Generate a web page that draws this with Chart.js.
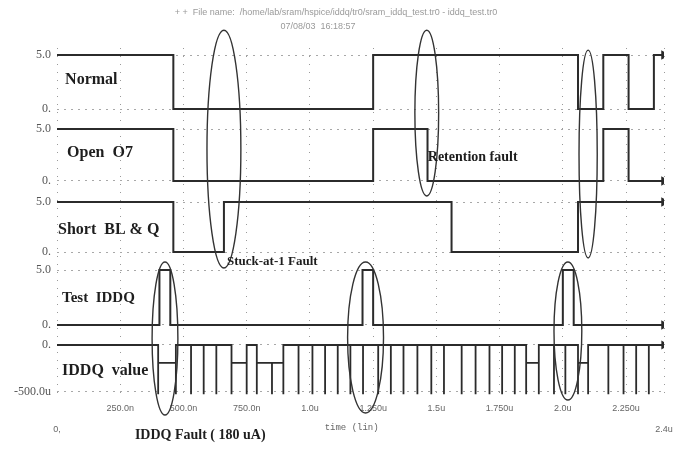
<!DOCTYPE html>
<html>
<head>
<meta charset="utf-8">
<script src="https://cdn.jsdelivr.net/npm/chart.js@4.4.1/dist/chart.umd.min.js"></script>
<style>
  html, body { margin: 0; padding: 0; background: #fff; }
  #wrap { width: 676px; height: 450px; }
</style>
</head>
<body>
<div id="wrap"><canvas id="wave" width="676" height="450"></canvas></div>
<script>
// time axis, in µs
const timeTicks = [0, 0.25, 0.5, 0.75, 1.0, 1.25, 1.5, 1.75, 2.0, 2.25, 2.4];
const timeLabels = ['0,', '250.0n', '500.0n', '750.0n', '1.0u', '1.250u', '1.5u', '1.750u', '2.0u', '2.250u', '2.4u'];

// voltage / current axes
const voltTicks = [0, 5];
const voltLabels = ['0.', '5.0'];
const currentTicks = [-500, 0];
const currentLabels = ['-500.0u', '0.'];

// step signals: time of each edge (µs) and the level after it (V)
const normalTimes = [0, 0.46, 1.25, 2.06, 2.16, 2.26, 2.36, 2.4];
const normalLevels = [5, 0, 5, 0, 5, 0, 5, 5];
const openTimes = [0, 0.46, 1.25, 1.465, 2.16, 2.26, 2.4];
const openLevels = [5, 0, 5, 0, 5, 0, 0];
const shortTimes = [0, 0.46, 0.66, 1.56, 2.06, 2.4];
const shortLevels = [5, 0, 5, 0, 5, 5];
const testTimes = [0, 0.405, 0.448, 1.208, 1.25, 2.0, 2.043, 2.4];
const testLevels = [0, 5, 0, 5, 0, 5, 0, 0];

// supply current: spike times (µs), level after each spike (µA), spike depth
const spikeTimes = [0.40, 0.47, 0.53, 0.58, 0.63, 0.69, 0.75, 0.79, 0.85, 0.895, 0.955, 1.01, 1.06, 1.11,
  1.16, 1.21, 1.27, 1.32, 1.37, 1.425, 1.48, 1.53, 1.60, 1.655, 1.71, 1.76, 1.81, 1.855, 1.905, 1.965,
  2.01, 2.06, 2.10, 2.18, 2.24, 2.29, 2.34];
const iddqLevels = [-190, 0, 0, 0, 0, -190, 0, -190, -190, 0, 0, 0, 0, 0,
  0, 0, 0, 0, 0, 0, 0, 0, 0, 0, 0, 0, 0, -190, 0, 0,
  0, -190, 0, 0, 0, 0, 0];
const spikeDepth = -525;

function stepPoints(times, levels) {
  return times.map((t, i) => ({ x: t, y: levels[i] }));
}

function iddqPoints() {
  const pts = [{ x: 0, y: 0 }];
  let level = 0;
  spikeTimes.forEach((t, i) => {
    pts.push({ x: t, y: level }, { x: t, y: spikeDepth }, { x: t, y: iddqLevels[i] });
    level = iddqLevels[i];
  });
  pts.push({ x: 2.4, y: level });
  return pts;
}

// annotations: ellipses and notes, placed in data units
const rings = [
  { t: 0.66, half: 0.067, top: ['yN', 7.3], bottom: ['yS', -1.6] },
  { t: 1.462, half: 0.047, top: ['yN', 7.3], bottom: ['yS', 5.6] },
  { t: 2.10, half: 0.036, top: ['yN', 5.45], bottom: ['yS', -0.6] },
  { t: 0.427, half: 0.051, top: ['yT', 5.73], bottom: ['yI', -745] },
  { t: 1.22, half: 0.071, top: ['yT', 5.73], bottom: ['yI', -723] },
  { t: 2.02, half: 0.055, top: ['yT', 5.73], bottom: ['yI', -585] }
];

const notes = [
  { text: 'Normal', t: 0.032, axis: 'yN', v: 2.7, font: 'bold 16px "Liberation Serif"' },
  { text: 'Open  O7', t: 0.04, axis: 'yO', v: 2.7, font: 'bold 16px "Liberation Serif"' },
  { text: 'Short  BL & Q', t: 0.004, axis: 'yS', v: 2.2, font: 'bold 16px "Liberation Serif"' },
  { text: 'Test  IDDQ', t: 0.02, axis: 'yT', v: 2.45, font: 'bold 15px "Liberation Serif"' },
  { text: 'IDDQ  value', t: 0.02, axis: 'yI', v: -277, font: 'bold 16px "Liberation Serif"' },
  { text: 'Retention fault', t: 1.466, axis: 'yO', v: 2.3, font: 'bold 14px "Liberation Serif"' },
  { text: 'Stuck-at-1 Fault', t: 0.672, axis: 'yS', v: -1.0, font: 'bold 13px "Liberation Serif"' },
  { text: 'IDDQ Fault ( 180 uA)', t: 0.308, axis: 'yI', v: -957, font: 'bold 14px "Liberation Serif"' }
];

const annotate = {
  id: 'annotate',
  afterDatasetsDraw(chart) {
    const ctx = chart.ctx;
    const x = chart.scales.x;
    ctx.save();
    ctx.strokeStyle = '#333';
    ctx.lineWidth = 1.4;
    rings.forEach(r => {
      const cx = x.getPixelForValue(r.t);
      const rx = x.getPixelForValue(r.t + r.half) - cx;
      const y1 = chart.scales[r.top[0]].getPixelForValue(r.top[1]);
      const y2 = chart.scales[r.bottom[0]].getPixelForValue(r.bottom[1]);
      ctx.beginPath();
      ctx.ellipse(cx, (y1 + y2) / 2, rx, Math.abs(y2 - y1) / 2, 0, 0, Math.PI * 2);
      ctx.stroke();
    });
    ctx.fillStyle = '#1e1e1e';
    ctx.textBaseline = 'middle';
    ctx.textAlign = 'left';
    notes.forEach(n => {
      ctx.font = n.font;
      ctx.fillText(n.text, x.getPixelForValue(n.t), chart.scales[n.axis].getPixelForValue(n.v));
    });

    // header and axis caption
    ctx.fillStyle = '#9a9a9a';
    ctx.font = '9px "Liberation Sans"';
    ctx.textAlign = 'center';
    ctx.fillText('+ +  File name:  /home/lab/sram/hspice/iddq/tr0/sram_iddq_test.tr0 - iddq_test.tr0', 336, 13);
    ctx.fillText('07/08/03  16:18:57', 318, 27);
    ctx.fillStyle = '#666';
    ctx.font = '9px "Liberation Mono"';
    ctx.fillText('time (lin)', x.getPixelForValue(1.165), chart.chartArea.bottom + 30);
    ctx.restore();
  }
};

function panelAxis(min, max, weight, values, labels) {
  return {
    type: 'linear',
    position: 'left',
    stack: 'wave',
    stackWeight: weight,
    min: min,
    max: max,
    afterBuildTicks: s => { s.ticks = values.map(v => ({ value: v })); },
    afterFit: s => { s.width = 57; },
    ticks: {
      callback: v => labels[values.indexOf(v)],
      color: '#555',
      padding: 6,
      font: { family: 'Liberation Serif', size: 12 }
    },
    grid: { color: '#a8a8a8', drawTicks: false },
    border: { display: false, dash: [2, 5] }
  };
}

function lineSet(data, axis, width) {
  return {
    data: data,
    yAxisID: axis,
    borderColor: '#2b2b2b',
    backgroundColor: '#2b2b2b',
    borderWidth: width,
    stepped: axis === 'yI' ? false : 'before',
    pointStyle: 'triangle',
    rotation: 90,
    pointRadius: c => (c.dataIndex === data.length - 1 ? 3.5 : 0),
    fill: false
  };
}

new Chart(document.getElementById('wave'), {
  type: 'line',
  data: {
    datasets: [
      lineSet(stepPoints(normalTimes, normalLevels), 'yN', 2),
      lineSet(stepPoints(openTimes, openLevels), 'yO', 2),
      lineSet(stepPoints(shortTimes, shortLevels), 'yS', 2),
      lineSet(stepPoints(testTimes, testLevels), 'yT', 2),
      lineSet(iddqPoints(), 'yI', 1.8)
    ]
  },
  options: {
    responsive: false,
    animation: false,
    devicePixelRatio: 1,
    layout: { padding: { top: 48, right: 12, left: 0, bottom: 0 } },
    plugins: { legend: { display: false }, tooltip: { enabled: false } },
    scales: {
      x: {
        type: 'linear',
        min: 0,
        max: 2.4,
        afterBuildTicks: s => { s.ticks = timeTicks.map(v => ({ value: v })); },
        afterFit: s => { s.height = 52; },
        ticks: {
          callback: v => {
            const i = timeTicks.indexOf(v);
            return (i === 0 || i === timeTicks.length - 1) ? ['', timeLabels[i]] : timeLabels[i];
          },
          color: '#666',
          padding: 0,
          maxRotation: 0,
          autoSkip: false,
          font: { family: 'Liberation Sans', size: 9, lineHeight: 2.3 }
        },
        grid: { color: '#9a9a9a', drawTicks: false },
        border: { display: false, dash: [1, 7] }
      },
      // stacked axes are laid out bottom-up, so the lowest panel comes first
      yI: panelAxis(-564, 117, 64, currentTicks, currentLabels),
      yT: panelAxis(-0.82, 5.73, 72, voltTicks, voltLabels),
      yS: panelAxis(-1.0, 6.0, 70, voltTicks, voltLabels),
      yO: panelAxis(-1.06, 6.06, 74, voltTicks, voltLabels),
      yN: panelAxis(-0.83, 5.65, 70, voltTicks, voltLabels)
    }
  },
  plugins: [annotate]
});
</script>
</body>
</html>
